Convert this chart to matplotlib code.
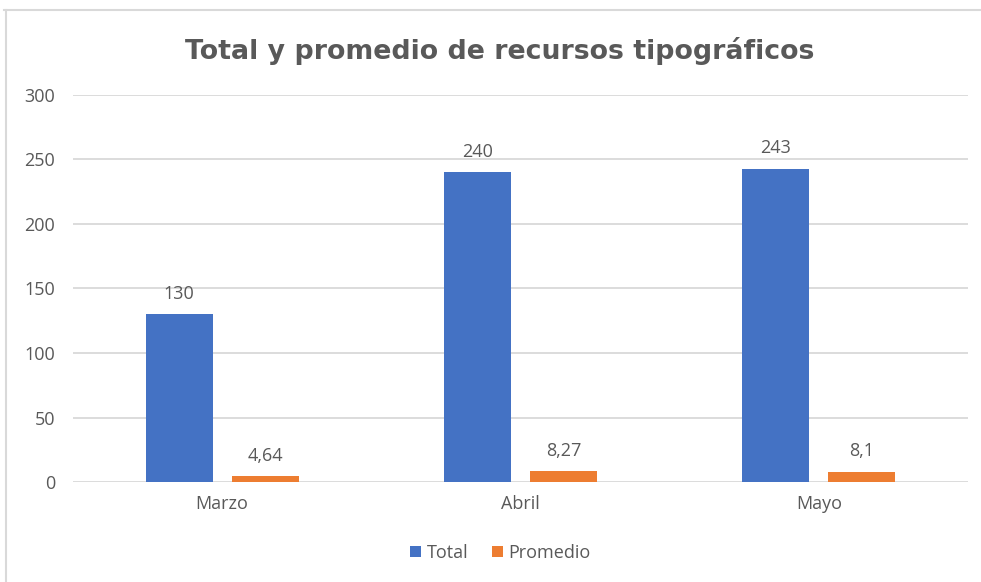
import matplotlib.pyplot as plt
import numpy as np
from matplotlib.lines import Line2D

meses = ['Marzo', 'Abril', 'Mayo']
total = [130, 240, 243]
promedio = [4.64, 8.27, 8.1]
etiquetas_total = ['130', '240', '243']
etiquetas_promedio = ['4,64', '8,27', '8,1']

plt.rcParams['font.family'] = ['Open Sans', 'DejaVu Sans']
gris = '#595959'
fs = 13

fig = plt.figure(figsize=(9.81, 5.82), dpi=100)
ax = fig.add_axes([0.0744, 0.1718, 0.9123, 0.665])

x = np.arange(len(meses))
w = 0.224
off = 0.144
b1 = ax.bar(x - off, total, w, color='#4472C4', label='Total', zorder=3)
b2 = ax.bar(x + off, promedio, w, color='#ED7D31', label='Promedio', zorder=3)

for rect, t in zip(b1, etiquetas_total):
    ax.annotate(t, (rect.get_x() + rect.get_width() / 2, rect.get_height()),
                xytext=(0, 8), textcoords='offset points', ha='center', va='bottom',
                fontsize=fs, color=gris)
for rect, t in zip(b2, etiquetas_promedio):
    ax.annotate(t, (rect.get_x() + rect.get_width() / 2, rect.get_height()),
                xytext=(0, 8), textcoords='offset points', ha='center', va='bottom',
                fontsize=fs, color=gris)

ax.set_xlim(-0.5, 2.5)
ax.set_ylim(0, 300)
ax.set_yticks(range(0, 301, 50))
ax.set_xticks(x)
ax.set_xticklabels(meses)
ax.tick_params(axis='both', length=0, labelsize=fs, labelcolor=gris)
ax.tick_params(axis='y', pad=13)
ax.tick_params(axis='x', pad=9)
ax.grid(axis='y', color='#D9D9D9', linewidth=1.3, zorder=0)
for s in ax.spines.values():
    s.set_visible(False)

fig.text(0.509, 0.912, 'Total y promedio de recursos tipográficos', ha='center', va='center',
         fontsize=19.3, fontweight='bold', color=gris, family=['DejaVu Sans'])

ax.legend(loc='center', bbox_to_anchor=(0.51, 0.05), bbox_transform=fig.transFigure,
          ncol=2, frameon=False, fontsize=fs, labelcolor=gris,
          handlelength=0.6, handleheight=0.6, handletextpad=0.3, columnspacing=1.3)

# borde del gráfico
fig.add_artist(Line2D([0.004, 1.0], [0.983, 0.983], color='#D9D9D9', linewidth=1.5,
                      transform=fig.transFigure))
fig.add_artist(Line2D([0.006, 0.006], [0.0, 0.983], color='#D9D9D9', linewidth=1.5,
                      transform=fig.transFigure))

plt.savefig('out.png', dpi=100)
